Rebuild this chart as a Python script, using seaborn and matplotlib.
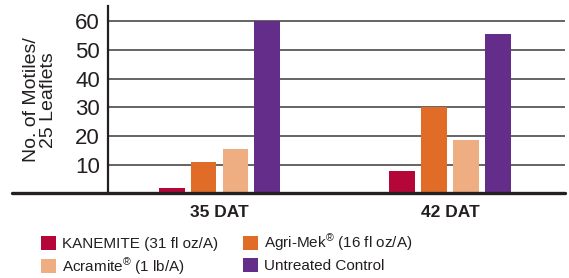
import matplotlib
matplotlib.use("Agg")
import matplotlib.pyplot as plt
from matplotlib.patches import Patch
import seaborn as sns
import pandas as pd

# Werte
zeitpunkte = ["35 DAT", "42 DAT"]
behandlungen = ["KANEMITE (31 fl oz/A)", "Agri-Mek$^{®}$ (16 fl oz/A)",
                "Acramite$^{®}$ (1 lb/A)", "Untreated Control"]
kanemite = [2, 8]
agrimek = [11, 30]
acramite = [15.5, 18.5]
kontrolle = [60, 55.5]
farben = ["#B5063A", "#E06C28", "#EEAE82", "#652D8A"]
yticks = [10, 20, 30, 40, 50, 60]

rows = []
for b, werte in zip(behandlungen, [kanemite, agrimek, acramite, kontrolle]):
    for z, w in zip(zeitpunkte, werte):
        rows.append({"DAT": z, "Behandlung": b, "Wert": w})
df = pd.DataFrame(rows)

sns.set_style("white")
plt.rcParams['font.family'] = ['Liberation Sans', 'DejaVu Sans']
plt.rcParams['mathtext.fontset'] = 'custom'
plt.rcParams['mathtext.rm'] = 'Liberation Sans'
plt.rcParams['mathtext.it'] = 'Liberation Sans'

fig = plt.figure(figsize=(5.69, 2.78), dpi=100)
ax = fig.add_axes([0.19, 0.304, 0.803, 0.674])

sns.barplot(data=df, x="DAT", y="Wert", hue="Behandlung", hue_order=behandlungen,
            palette=farben, width=0.554, gap=0.19, saturation=1, ax=ax, legend=False,
            linewidth=0, edgecolor="none")

for t in yticks:
    ax.axhline(t, color="#3a3a3a", linewidth=1.1, zorder=0)

ax.set_xlim(-0.483, 1.498)
ax.set_ylim(0, 65.3)
ax.set_yticks(yticks)
ax.set_yticklabels([str(t) for t in yticks], fontsize=16, color="#231f20")
ax.tick_params(axis="both", length=0, pad=6)
ax.set_xticks([0, 1])
ax.set_xticklabels(zeitpunkte, fontsize=12.5, fontweight="bold", color="#231f20")
ax.tick_params(axis="x", pad=8)
ax.set_xlabel("")
ax.set_ylabel("No. of Motiles/\n25 Leaflets", fontsize=14, color="#231f20", labelpad=13,
              linespacing=0.95)

for s in ["top", "right", "bottom"]:
    ax.spines[s].set_visible(False)
ax.spines["left"].set_color("#231f20")
ax.spines["left"].set_linewidth(1.6)

# Grundlinie ragt links über die Achse hinaus
ax.axhline(0, xmin=-0.21, xmax=1.0, color="#231f20", linewidth=2.4, clip_on=False, zorder=5)

# Legende zeilenweise: Reihenfolge für ncol=2 umstellen
reihenfolge = [0, 2, 1, 3]
handles = [Patch(facecolor=farben[i], edgecolor="none") for i in reihenfolge]
labels = [behandlungen[i] for i in reihenfolge]
fig.legend(handles, labels, ncol=2, loc="upper left", bbox_to_anchor=(0.058, 0.19),
           frameon=False, fontsize=11, handlelength=1.0, handleheight=1.0,
           handletextpad=0.4, columnspacing=1.6, labelspacing=0.3, borderpad=0,
           labelcolor="#231f20")

fig.savefig("out.png", dpi=100)
